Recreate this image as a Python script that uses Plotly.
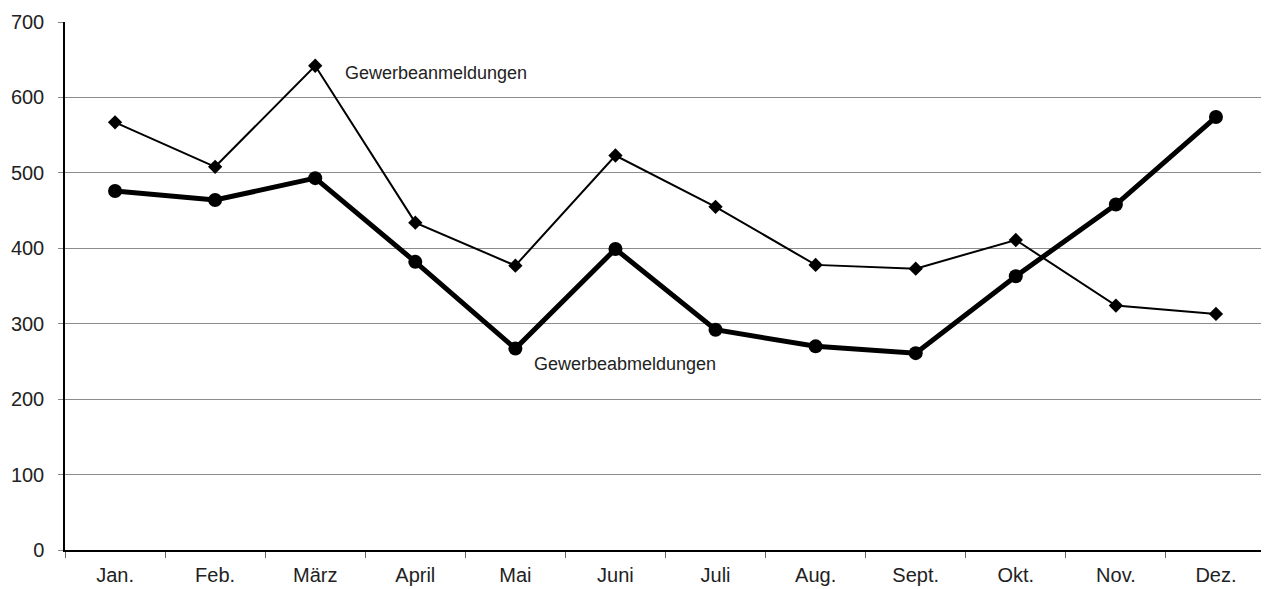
import plotly.graph_objects as go

months = ["Jan.", "Feb.", "März", "April", "Mai", "Juni", "Juli", "Aug.", "Sept.", "Okt.", "Nov.", "Dez."]
anmeldungen = [567, 508, 642, 434, 377, 523, 455, 378, 373, 411, 324, 313]
abmeldungen = [476, 464, 493, 382, 267, 399, 292, 270, 261, 363, 458, 574]
y_ticks = [0, 100, 200, 300, 400, 500, 600, 700]

FONT = "Liberation Sans, Arial, sans-serif"

fig = go.Figure()
fig.add_trace(go.Scatter(
    x=months, y=anmeldungen, mode="lines+markers", name="Gewerbeanmeldungen",
    line=dict(color="black", width=2),
    marker=dict(symbol="diamond", size=11, color="black"),
))
fig.add_trace(go.Scatter(
    x=months, y=abmeldungen, mode="lines+markers", name="Gewerbeabmeldungen",
    line=dict(color="black", width=5),
    marker=dict(symbol="circle", size=14, color="black"),
))

fig.add_annotation(x=2.28, y=632, xref="x", yref="y", text="Gewerbeanmeldungen",
                   showarrow=False, xanchor="left", yanchor="middle",
                   font=dict(family=FONT, size=18, color="#222"))
fig.add_annotation(x=4.165, y=246, xref="x", yref="y", text="Gewerbeabmeldungen",
                   showarrow=False, xanchor="left", yanchor="middle",
                   font=dict(family=FONT, size=18, color="#222"))

fig.update_layout(
    width=1261, height=581,
    margin=dict(l=55, r=3, t=11, b=37),
    paper_bgcolor="white", plot_bgcolor="white",
    showlegend=False,
    font=dict(family=FONT, color="#222"),
)
fig.update_xaxes(
    type="category", categoryorder="array", categoryarray=months,
    range=[-0.5, 11.5], tickson="boundaries",
    showline=True, linecolor="black", linewidth=1.5,
    ticks="outside", ticklen=6, tickcolor="#666", tickwidth=1,
    ticklabelstandoff=6,
    showgrid=False, tickfont=dict(family=FONT, size=20, color="#222"),
)
fig.update_yaxes(
    range=[0, 700], tickvals=y_ticks,
    showline=True, linecolor="black", linewidth=1.5,
    ticks="outside", ticklen=5, tickcolor="#888", tickwidth=1,
    showgrid=True, gridcolor="#8c8c8c", gridwidth=1,
    zeroline=False, ticklabelstandoff=10,
    tickfont=dict(family=FONT, size=20, color="#222"),
)

fig.write_html("out.html")
